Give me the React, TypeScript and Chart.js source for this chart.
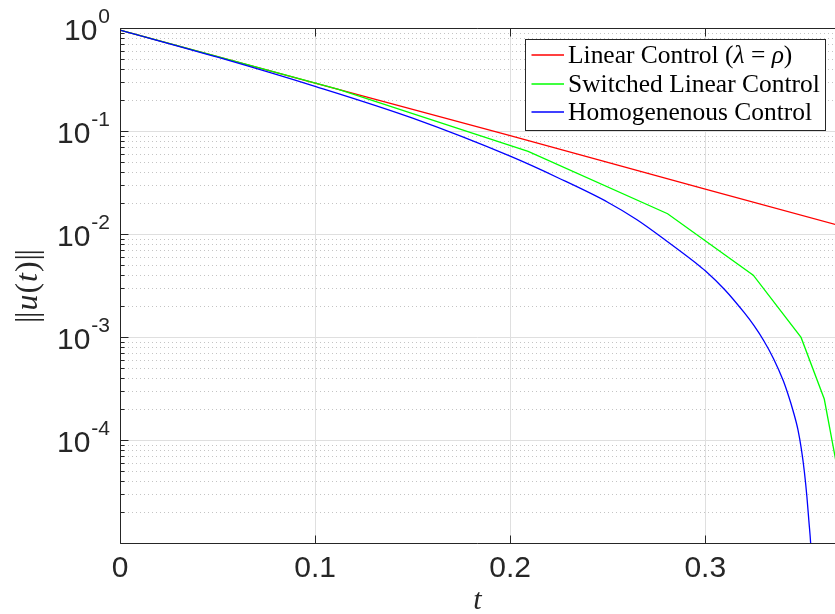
import React, { useEffect, useRef } from 'react';
import { Chart, registerables } from 'chart.js';

Chart.register(...registerables);

// ---- data ----
const redT = [0, 0.1, 0.2, 0.3, 0.37];
const redU = [0.956, 0.292, 0.09, 0.0273, 0.0119];

const greenT = [0, 0.112, 0.2092, 0.2807, 0.3246, 0.3491, 0.361, 0.367];
const greenU = [0.956, 0.2535, 0.0634, 0.01574, 0.00398, 0.000991, 0.00025, 0.000062];

const blueT = [0, 0.05, 0.1, 0.15, 0.2, 0.225, 0.25, 0.265, 0.28, 0.295, 0.3, 0.31, 0.32, 0.325, 0.33, 0.335, 0.34, 0.3425, 0.345, 0.3475, 0.3493, 0.3508, 0.3521, 0.3531, 0.354, 0.3547];
const blueU = [0.956, 0.5204, 0.271, 0.1331, 0.0569, 0.0348, 0.02036, 0.01376, 0.00861, 0.00526, 0.0044, 0.00288, 0.001721, 0.001288, 0.00092, 0.000616, 0.000376, 0.000275, 0.0001925, 0.000126, 0.0000805, 0.0000492, 0.0000281, 0.00001646, 0.00001007, 0.0000055];

const seriesLabels = ['Linear Control (λ = ρ)', 'Switched Linear Control', 'Homogenenous Control'];

const xTicks = [0, 0.1, 0.2, 0.3];
const xTickLabels = ['0', '0.1', '0.2', '0.3'];
const yDecades = [0, -1, -2, -3, -4, -5];
const yLabeledDecades = [0, -1, -2, -3, -4];
const yMinorMultipliers = [2, 3, 4, 5, 6, 7, 8, 9];

const X_MIN = 0;
const X_MAX = 0.3665;
const Y_MIN = 1e-5;
const Y_MAX = 1;

// ---- styles ----
const AXIS = '#262626';
const MAJOR_GRID = '#dfdfdf';
const MINOR_GRID = '#c4c4c4';
const FONT_SANS = '"Liberation Sans", Arial, Helvetica, sans-serif';
const FONT_SERIF = '"Liberation Serif", "Times New Roman", serif';

function splitRuns(text: string) {
  const runs: { s: string; it: boolean }[] = [];
  for (const ch of Array.from(text)) {
    const it = /[\u0370-\u03ff]/.test(ch);
    const last = runs[runs.length - 1];
    if (last && last.it === it) last.s += ch;
    else runs.push({ s: ch, it });
  }
  return runs;
}

function measureMixed(ctx: any, text: string, size: number) {
  let w = 0;
  for (const r of splitRuns(text)) {
    ctx.font = `${r.it ? 'italic ' : ''}${size}px ${FONT_SERIF}`;
    w += ctx.measureText(r.s).width;
  }
  return w;
}

function drawMixed(ctx: any, text: string, x: number, y: number, size: number) {
  let cx = x;
  for (const r of splitRuns(text)) {
    ctx.font = `${r.it ? 'italic ' : ''}${size}px ${FONT_SERIF}`;
    ctx.fillText(r.s, cx, y);
    cx += ctx.measureText(r.s).width;
  }
}

const matlabPlugin = {
  id: 'matlabAxes',
  beforeDatasetsDraw(chart: any) {
    const { ctx, chartArea: a, scales } = chart;
    const xs = scales.x;
    const ys = scales.y;
    ctx.save();
    ctx.beginPath();
    ctx.rect(a.left, a.top, a.right - a.left, a.bottom - a.top);
    ctx.clip();
    ctx.lineWidth = 1;
    ctx.strokeStyle = MINOR_GRID;
    ctx.setLineDash([1, 3]);
    for (const e of yDecades) {
      for (const m of yMinorMultipliers) {
        const v = m * Math.pow(10, e);
        if (v <= ys.min || v >= ys.max) continue;
        const py = Math.round(ys.getPixelForValue(v)) + 0.5;
        ctx.beginPath();
        ctx.moveTo(a.left, py);
        ctx.lineTo(a.right, py);
        ctx.stroke();
      }
    }
    ctx.setLineDash([]);
    ctx.strokeStyle = MAJOR_GRID;
    for (const e of yDecades) {
      const v = Math.pow(10, e);
      if (v < ys.min || v > ys.max) continue;
      const py = Math.round(ys.getPixelForValue(v)) + 0.5;
      ctx.beginPath();
      ctx.moveTo(a.left, py);
      ctx.lineTo(a.right, py);
      ctx.stroke();
    }
    for (const t of xTicks) {
      const px = Math.round(xs.getPixelForValue(t)) + 0.5;
      ctx.beginPath();
      ctx.moveTo(px, a.top);
      ctx.lineTo(px, a.bottom);
      ctx.stroke();
    }
    ctx.restore();
  },
  afterDatasetsDraw(chart: any) {
    const { ctx, chartArea: a, scales } = chart;
    const xs = scales.x;
    const ys = scales.y;
    const L = Math.round(a.left) + 0.5;
    const B = Math.round(a.bottom) + 0.5;
    const T = Math.round(a.top) + 0.5;
    const R = a.right;
    ctx.save();
    ctx.strokeStyle = AXIS;
    ctx.lineWidth = 1;
    ctx.setLineDash([]);
    ctx.beginPath();
    ctx.moveTo(L, T);
    ctx.lineTo(R, T);
    ctx.moveTo(L, T);
    ctx.lineTo(L, B);
    ctx.lineTo(R, B);
    ctx.stroke();
    ctx.beginPath();
    for (const e of yDecades) {
      for (const m of [1, ...yMinorMultipliers]) {
        const v = m * Math.pow(10, e);
        if (v < ys.min || v > ys.max) continue;
        const py = Math.round(ys.getPixelForValue(v)) + 0.5;
        const len = m === 1 ? 8 : 4;
        ctx.moveTo(L, py);
        ctx.lineTo(L + len, py);
      }
    }
    for (const t of xTicks) {
      const px = Math.round(xs.getPixelForValue(t)) + 0.5;
      ctx.moveTo(px, B);
      ctx.lineTo(px, B - 8);
      ctx.moveTo(px, T);
      ctx.lineTo(px, T + 8);
    }
    ctx.stroke();

    // x tick labels
    ctx.fillStyle = AXIS;
    ctx.font = `30px ${FONT_SANS}`;
    ctx.textAlign = 'center';
    ctx.textBaseline = 'alphabetic';
    xTicks.forEach((t, i) => {
      ctx.fillText(xTickLabels[i], xs.getPixelForValue(t), a.bottom + 34);
    });

    // y tick labels 10^e
    ctx.textAlign = 'left';
    const rightEdge = a.left - 10;
    for (const e of yLabeledDecades) {
      const py = ys.getPixelForValue(Math.pow(10, e));
      const expStr = String(e);
      ctx.font = `21px ${FONT_SANS}`;
      const wExp = ctx.measureText(expStr).width;
      ctx.font = `30px ${FONT_SANS}`;
      const wBase = ctx.measureText('10').width;
      ctx.fillText('10', rightEdge - wExp - wBase - 1, py + 11.5);
      ctx.font = `21px ${FONT_SANS}`;
      ctx.fillText(expStr, rightEdge - wExp, py - 5.5);
    }

    // x title
    ctx.font = `italic 30px ${FONT_SERIF}`;
    ctx.textAlign = 'center';
    ctx.fillText('t', (a.left + a.right) / 2, a.bottom + 66);

    // y title ||u(t)||
    const size = 32;
    const segs = [
      { s: '|', it: false, adv: 5 },
      { s: '|', it: false, adv: 0 },
      { s: 'u', it: true, adv: 0 },
      { s: '(', it: false, adv: 0 },
      { s: 't', it: true, adv: 0 },
      { s: ')', it: false, adv: 0 },
      { s: '|', it: false, adv: 5 },
      { s: '|', it: false, adv: 0 },
    ];
    let total = 0;
    const widths = segs.map((g) => {
      ctx.font = `${g.it ? 'italic ' : ''}${size}px ${FONT_SERIF}`;
      const w = g.adv || ctx.measureText(g.s).width + 1;
      total += w;
      return w;
    });
    ctx.save();
    ctx.translate(37, (a.top + a.bottom) / 2);
    ctx.rotate(-Math.PI / 2);
    ctx.textAlign = 'left';
    let cx = -total / 2;
    segs.forEach((g, i) => {
      ctx.font = `${g.it ? 'italic ' : ''}${size}px ${FONT_SERIF}`;
      ctx.fillText(g.s, cx, 0);
      cx += widths[i];
    });
    ctx.restore();

    // legend
    const lx0 = 525.5, ly0 = 39.5, lx1 = 825.5, ly1 = 130.5;
    ctx.fillStyle = '#ffffff';
    ctx.fillRect(lx0, ly0, lx1 - lx0, ly1 - ly0);
    ctx.strokeStyle = AXIS;
    ctx.lineWidth = 1;
    ctx.strokeRect(lx0, ly0, lx1 - lx0, ly1 - ly0);
    const rowY = [55, 84, 112];
    const textX = 568;
    const targetW = 252; // width of the longest entry in the reference
    let maxW = 0;
    chart.data.datasets.forEach((ds: any) => {
      maxW = Math.max(maxW, measureMixed(ctx, ds.label, 25));
    });
    const legendSize = Math.min(27, 25 * targetW / maxW);
    ctx.textAlign = 'left';
    ctx.textBaseline = 'middle';
    chart.data.datasets.forEach((ds: any, i: number) => {
      ctx.strokeStyle = ds.borderColor;
      ctx.lineWidth = 1.3;
      ctx.beginPath();
      ctx.moveTo(531.5, rowY[i]);
      ctx.lineTo(564, rowY[i]);
      ctx.stroke();
      ctx.fillStyle = '#000000';
      drawMixed(ctx, ds.label, textX, rowY[i] + 1, legendSize);
    });
    ctx.restore();
  },
};

export default function App() {
  const ref = useRef<HTMLCanvasElement>(null);
  useEffect(() => {
    const canvas = ref.current;
    if (!canvas) return;
    const mk = (ts: number[], us: number[]) => ts.map((t, i) => ({ x: t, y: us[i] }));
    const chart = new Chart(canvas, {
      type: 'line',
      data: {
        datasets: [
          { label: seriesLabels[0], data: mk(redT, redU), borderColor: '#ff0000', order: 2 },
          { label: seriesLabels[1], data: mk(greenT, greenU), borderColor: '#00ff00', order: 1 },
          { label: seriesLabels[2], data: mk(blueT, blueU), borderColor: '#0000ff', order: 0, cubicInterpolationMode: 'monotone' },
        ],
      } as any,
      options: {
        animation: false,
        responsive: false,
        devicePixelRatio: 1,
        events: [],
        layout: { padding: { top: 28, right: 0, left: 0, bottom: 0 } },
        plugins: { legend: { display: false }, tooltip: { enabled: false } },
        elements: { point: { radius: 0 }, line: { borderWidth: 1.3, fill: false } },
        scales: {
          x: {
            type: 'linear', min: X_MIN, max: X_MAX,
            ticks: { display: false }, grid: { display: false }, border: { display: false },
            afterFit: (s: any) => { s.height = 71; },
          },
          y: {
            type: 'logarithmic', min: Y_MIN, max: Y_MAX,
            ticks: { display: false }, grid: { display: false }, border: { display: false },
            afterFit: (s: any) => { s.width = 120; },
          },
        },
      } as any,
      plugins: [matlabPlugin],
    });
    return () => chart.destroy();
  }, []);
  return (
    <div style={{ position: 'absolute', left: 0, top: 0, width: 835, height: 614, background: '#fff' }}>
      <canvas ref={ref} width={835} height={614} style={{ display: 'block' }} />
    </div>
  );
}
